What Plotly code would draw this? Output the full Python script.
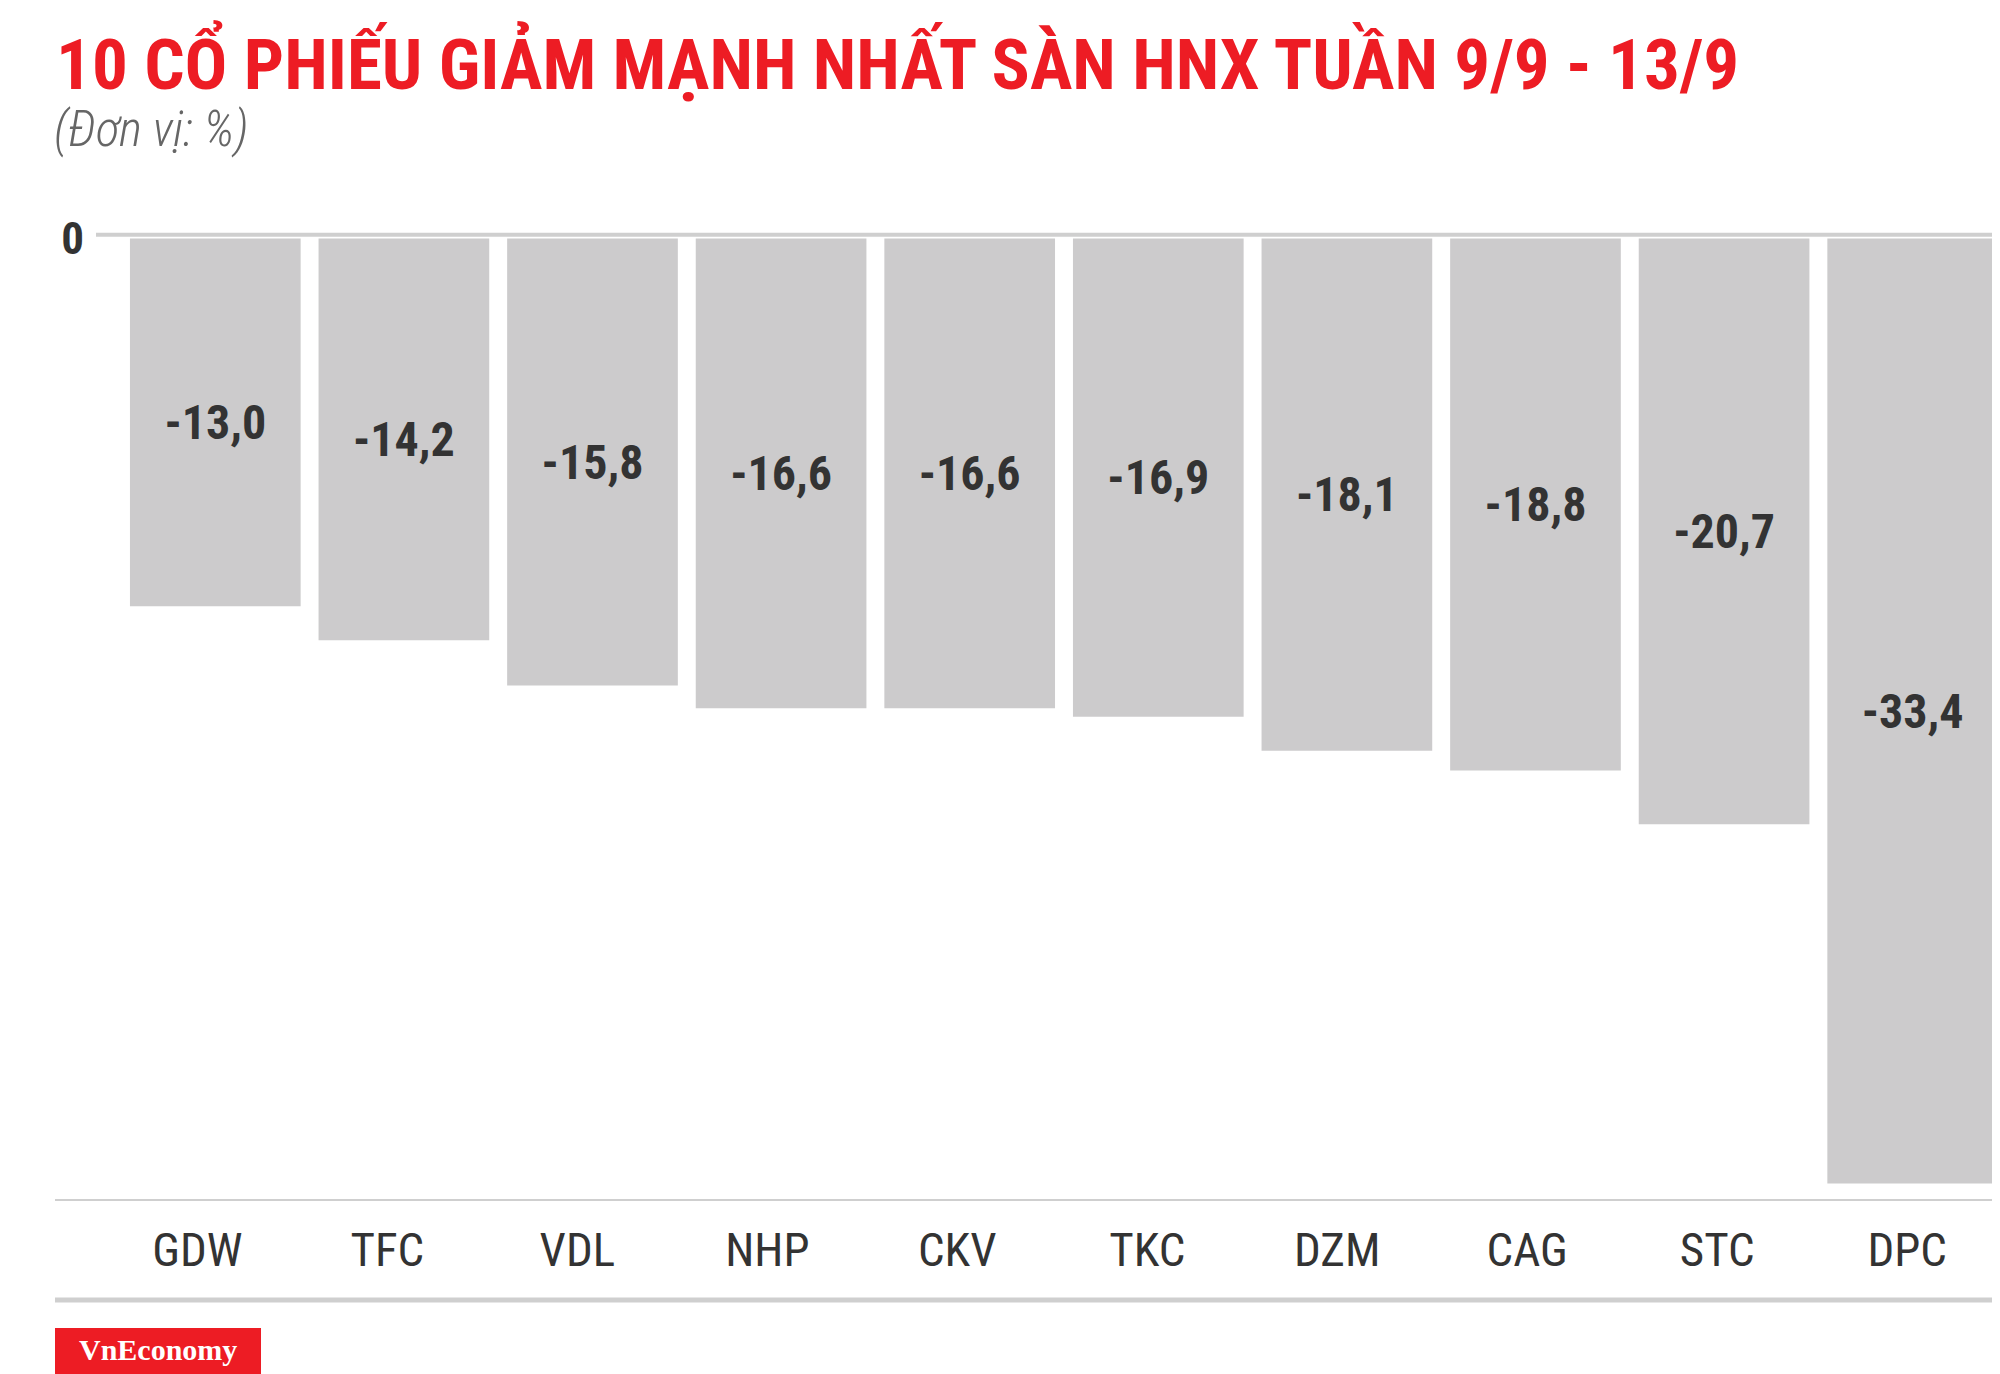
import plotly.graph_objects as go

tickers = ["GDW", "TFC", "VDL", "NHP", "CKV", "TKC", "DZM", "CAG", "STC", "DPC"]
changes = [-13.0, -14.2, -15.8, -16.6, -16.6, -16.9, -18.1, -18.8, -20.7, -33.4]
value_labels = [f"{v:.1f}".replace(".", ",") for v in changes]

title_text = "10 CỔ PHIẾU GIẢM MẠNH NHẤT SÀN HNX TUẦN 9/9 - 13/9"
subtitle_text = "(Đơn vị: %)"
brand_text = "VnEconomy"

COND = "Roboto Condensed, Liberation Sans Narrow, Arial Narrow, DejaVu Sans Condensed, Roboto, sans-serif"
OFF = 8  # page body margin
W, H = 2000 - OFF, 1374 - OFF
L, R, T, B = 121 - OFF, 0, 200 - OFF, 174
pw, ph = W - L - R, H - T - B

def px_x(p):
    return (p - OFF - L) / pw

def px_y(p):
    return (H - B - (p - OFF)) / ph

fig = go.Figure()
fig.add_trace(go.Bar(
    x=list(range(len(tickers))), y=changes,
    marker=dict(color="#cccbcc", line=dict(width=0)),
    width=0.905,
    text=value_labels, textposition="inside", insidetextanchor="middle",
    textangle=0,
    textfont=dict(family=COND, size=48, color="#333333", weight="bold"),
    hoverinfo="skip", showlegend=False,
))
# label axis (ticker names)
fig.add_trace(go.Scatter(
    x=list(range(len(tickers))), y=[0] * len(tickers), xaxis="x2",
    mode="markers", marker=dict(opacity=0), hoverinfo="skip", showlegend=False,
))

fig.update_layout(
    width=W, height=H,
    margin=dict(l=L, r=R, t=T, b=B),
    paper_bgcolor="white", plot_bgcolor="white",
    bargap=0.095,
    xaxis=dict(range=[-0.5, 9.463], showticklabels=False, showgrid=False,
               zeroline=False, showline=False, ticks=""),
    xaxis2=dict(overlaying="x", anchor="y", side="bottom",
                range=[-0.402, 9.4885], tickmode="array",
                tickvals=list(range(len(tickers))), ticktext=tickers,
                tickfont=dict(family=COND, size=47, color="#333333"),
                showgrid=False, zeroline=False, showline=False, ticks="",
                ticklabelstandoff=18),
    yaxis=dict(range=[-33.98, 1.36], tickmode="array", tickvals=[0], ticktext=["0"],
               tickfont=dict(family=COND, size=45, color="#333333", weight="bold"),
               showgrid=False, zeroline=False, showline=False, ticks="",
               ticklabelstandoff=36),
    shapes=[
        dict(type="line", xref="paper", yref="y", x0=px_x(96), x1=1.0, y0=0.13, y1=0.13,
             line=dict(color="#cfcfcf", width=4), layer="above"),
        dict(type="line", xref="paper", yref="paper", x0=px_x(55), x1=1.0,
             y0=px_y(1200), y1=px_y(1200), line=dict(color="#cfcfcf", width=2)),
        dict(type="line", xref="paper", yref="paper", x0=px_x(55), x1=1.0,
             y0=px_y(1300), y1=px_y(1300), line=dict(color="#cfcfcf", width=5)),
        dict(type="rect", xref="paper", yref="paper", x0=px_x(55), x1=px_x(261),
             y0=px_y(1374), y1=px_y(1328), fillcolor="#ed1c24", line=dict(width=0)),
    ],
    annotations=[
        dict(text=title_text, xref="paper", yref="paper", x=px_x(54), y=px_y(63),
             xanchor="left", yanchor="middle", showarrow=False,
             font=dict(family=COND, size=71, color="#ed1c24", weight="bold")),
        dict(text=subtitle_text, xref="paper", yref="paper", x=px_x(52), y=px_y(130),
             xanchor="left", yanchor="middle", showarrow=False,
             font=dict(family=COND, size=49, color="#666666", style="italic", weight=300)),
        dict(text=brand_text, xref="paper", yref="paper", x=px_x(158), y=px_y(1349),
             xanchor="center", yanchor="middle", showarrow=False,
             font=dict(family="Liberation Serif, Times New Roman, serif", size=30,
                       color="white", weight="bold")),
    ],
)

fig.write_html("out.html")
